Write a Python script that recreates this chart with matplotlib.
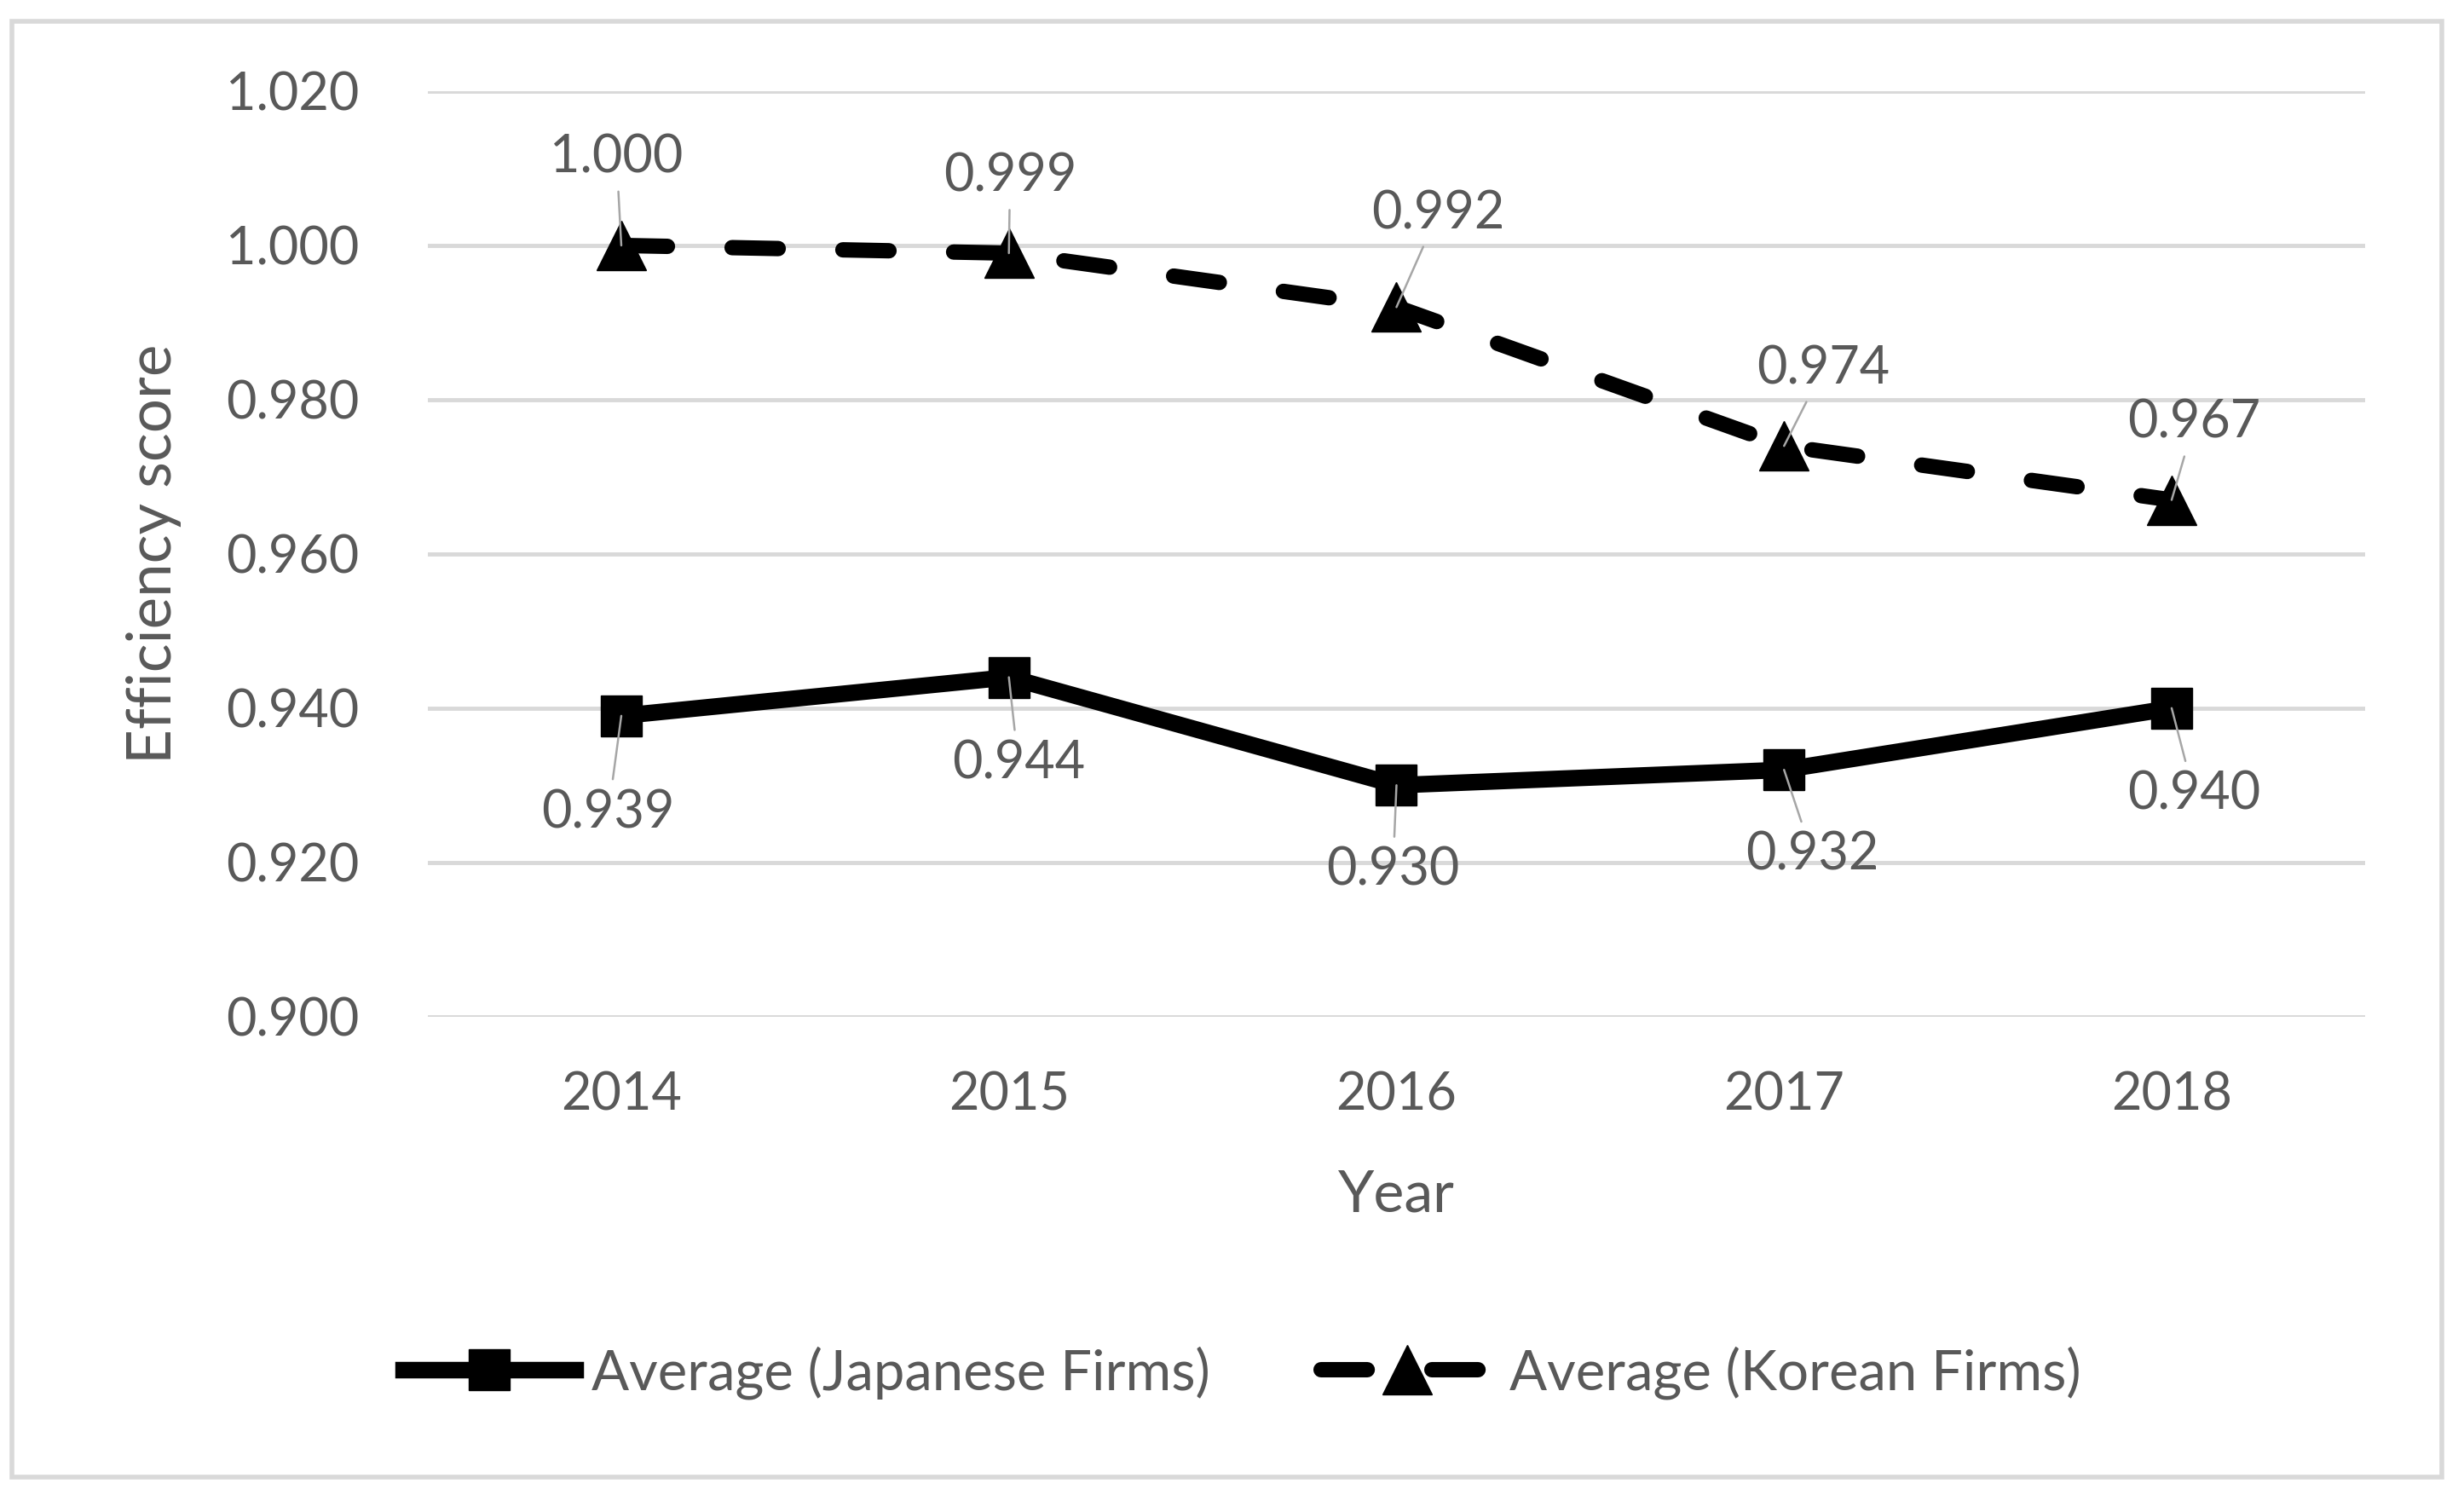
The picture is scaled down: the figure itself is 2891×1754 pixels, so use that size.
import matplotlib.pyplot as plt
from matplotlib.patches import Rectangle

years = ['2014', '2015', '2016', '2017', '2018']
japanese = [0.939, 0.944, 0.930, 0.932, 0.940]
korean = [1.000, 0.999, 0.992, 0.974, 0.967]

# label offsets (points) from each point
jp_offsets = [(-11, -82), (8, -73), (-3, -72), (24, -72), (19, -73)]
kr_offsets = [(-4, 74), (1, 65), (35, 79), (33, 65), (19, 65)]

plt.rcParams['font.family'] = ['Lato', 'DejaVu Sans']
txt = '#595959'
fs = 44

fig = plt.figure(figsize=(28.91, 17.54), dpi=100)
ax = fig.add_axes([0.1735, 0.320, 0.7865, 0.619])

x = range(len(years))
ax.plot(x, japanese, color='black', lw=14, marker='s', ms=35,
        solid_joinstyle='miter', label='Average (Japanese Firms)', zorder=3)
ax.plot(x, korean, color='black', lw=13, marker='^', ms=42,
        linestyle=(0, (3.0, 4.2)), dash_capstyle='round',
        label='Average (Korean Firms)', zorder=3)

for xi, v, off in zip(x, japanese, jp_offsets):
    ax.annotate(f'{v:.3f}', (xi, v), xytext=off, textcoords='offset points',
                ha='center', va='center', fontsize=fs, color=txt, zorder=5,
                arrowprops=dict(arrowstyle='-', color='#a6a6a6', lw=1.8,
                                shrinkA=6, shrinkB=0))
for xi, v, off in zip(x, korean, kr_offsets):
    ax.annotate(f'{v:.3f}', (xi, v), xytext=off, textcoords='offset points',
                ha='center', va='center', fontsize=fs, color=txt, zorder=5,
                arrowprops=dict(arrowstyle='-', color='#a6a6a6', lw=1.8,
                                shrinkA=6, shrinkB=0))

ax.set_xlim(-0.5, 4.5)
ax.set_ylim(0.900, 1.020)
ax.set_yticks([0.900, 0.920, 0.940, 0.960, 0.980, 1.000, 1.020])
ax.set_yticklabels([f'{t:.3f}' for t in ax.get_yticks()])
ax.set_xticks(list(x))
ax.set_xticklabels(years)
ax.tick_params(length=0, labelsize=fs, labelcolor=txt)
ax.tick_params(axis='y', pad=58)
ax.tick_params(axis='x', pad=46)
ax.grid(axis='y', color='#d9d9d9', lw=3.5)
ax.set_axisbelow(True)
for s in ax.spines.values():
    s.set_visible(False)

ax.set_xlabel('Year', fontsize=49, color=txt)
ax.set_ylabel('Efficiency score', fontsize=51, color=txt)
ax.xaxis.set_label_coords(0.5, -0.165)
ax.yaxis.set_label_coords(-0.127, 0.5)

fig.legend(loc='center', bbox_to_anchor=(0.504, 0.082), ncol=2, frameon=False,
           fontsize=47, labelcolor=txt, handlelength=3.1, handletextpad=0.28,
           columnspacing=2.0)

fig.patches.append(Rectangle((0.0048, 0.012), 0.9862, 0.974, transform=fig.transFigure,
                             fill=False, edgecolor='#d9d9d9', lw=4))

fig.savefig('out.png', dpi=100)
